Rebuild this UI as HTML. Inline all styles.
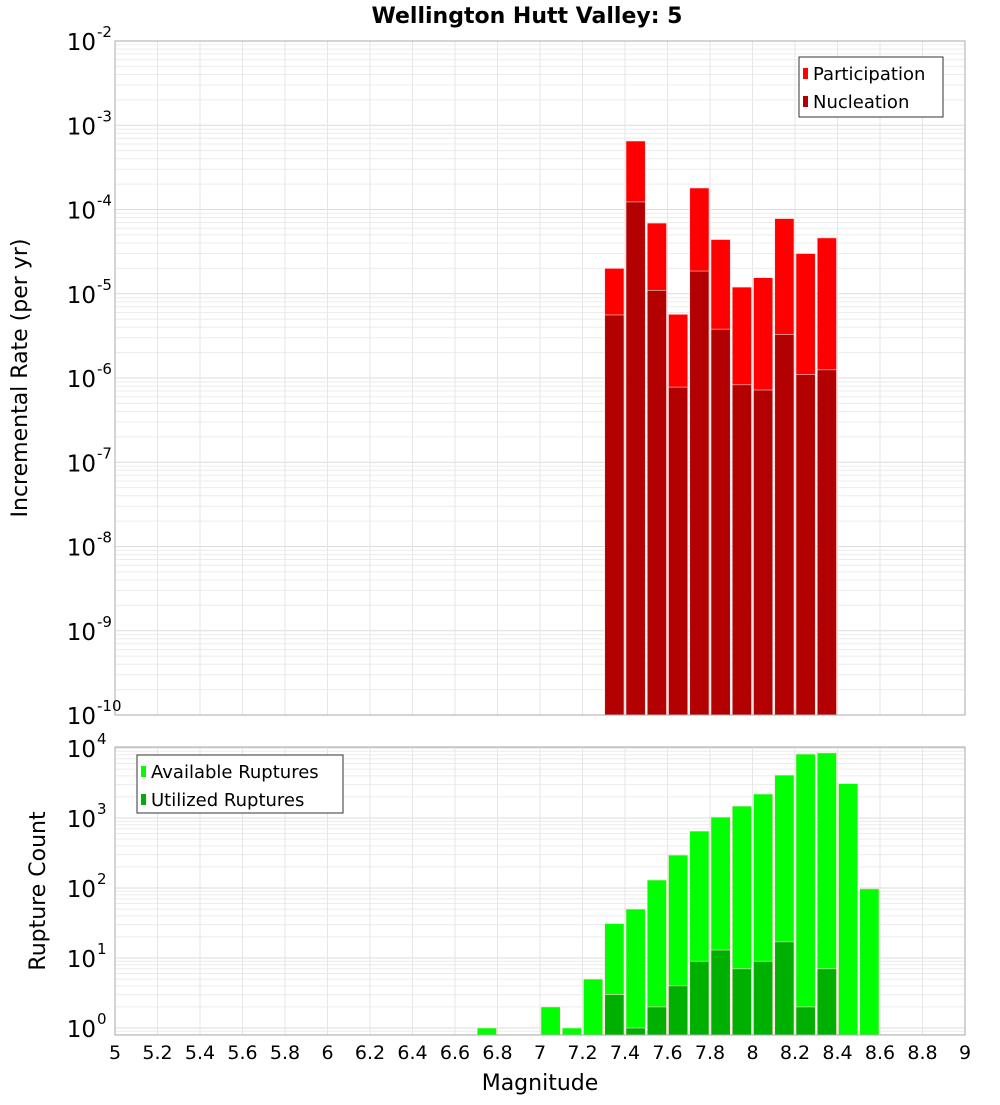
<!DOCTYPE html>
<html><head><meta charset="utf-8"><style>
body{margin:0;background:#fff;}
svg text{font-family:"DejaVu Sans","Liberation Sans",sans-serif;fill:#000;}
</style></head><body>
<svg id="c" width="1000" height="1100"></svg>
<script>
const mags=[7.3,7.4,7.5,7.6,7.7,7.8,7.9,8.0,8.1,8.2,8.3];
const participation=[2.0e-5,6.5e-4,6.9e-5,5.7e-6,1.8e-4,4.4e-5,1.2e-5,1.55e-5,7.8e-5,3.0e-5,4.6e-5];
const nucleation=[5.6e-6,1.23e-4,1.1e-5,7.8e-7,1.86e-5,3.8e-6,8.3e-7,7.2e-7,3.3e-6,1.1e-6,1.25e-6];
const availMags=[6.7,7.0,7.1,7.2,7.3,7.4,7.5,7.6,7.7,7.8,7.9,8.0,8.1,8.2,8.3,8.4,8.5];
const available=[1,2,1,5,31,50,130,295,650,1030,1480,2200,4100,8200,8500,3100,97];
const utilMags=[7.3,7.4,7.5,7.6,7.7,7.8,7.9,8.0,8.1,8.2,8.3];
const utilized=[3,1,2,4,9,13,7,9,17,2,7];
const xTicks=[5,5.2,5.4,5.6,5.8,6,6.2,6.4,6.6,6.8,7,7.2,7.4,7.6,7.8,8,8.2,8.4,8.6,8.8,9];
const topExp=[-2,-3,-4,-5,-6,-7,-8,-9,-10];
const botExp=[4,3,2,1,0];

const NS="http://www.w3.org/2000/svg";
const svg=document.getElementById('c');
function mk(tag,attrs,parent){const e=document.createElementNS(NS,tag);for(const k in attrs)e.setAttribute(k,attrs[k]);(parent||svg).appendChild(e);return e;}
const X0=115,X1=965;
const x=m=>X0+(m-5)/4*(X1-X0);
const T0=41,T1=715;
const yTop=v=>T0+(-2-Math.log10(v))/8*(T1-T0);
const B0=747,B1=1035;
const yBot=v=>1028-Math.log10(v)*70;

function grid(y0,y1,ymap,lo,hi){
  for(let d=lo;d<hi;d++){for(let k=1;k<10;k++){const v=k*Math.pow(10,d);const yy=ymap(v);if(yy<y0-0.1||yy>y1+0.1)continue;
    const l=mk('line',{x1:X0,x2:X1,y1:yy,y2:yy,stroke:k==1?'#dcdcdc':'#ececec','stroke-width':1});
    }}
  xTicks.forEach(t=>{const l=mk('line',{x1:x(t),x2:x(t),y1:y0,y2:y1,stroke:'#e6e6e6','stroke-width':1});
    });
}
grid(T0,T1,yTop,-10,-1);
grid(B0,B1,yBot,-1,5);

function bar(m,v,ymap,yb,fill,name){
  const x1=x(m)+1,x2=x(m+0.1)-1,yy=ymap(v);
  const r=mk('rect',{x:x1,y:yy,width:x2-x1,height:yb-yy,fill:fill,stroke:'#ffd8d8','stroke-width':0.6});
  
}
mags.forEach((m,i)=>bar(m,participation[i],yTop,T1,'#ff0000','participation-bar'));
mags.forEach((m,i)=>bar(m,nucleation[i],yTop,T1,'#b30000','nucleation-bar'));
availMags.forEach((m,i)=>bar(m,available[i],yBot,B1,'#00ff00','available-bar'));
utilMags.forEach((m,i)=>bar(m,utilized[i],yBot,B1,'#00b000','utilized-bar'));

mk('rect',{x:X0,y:T0,width:X1-X0,height:T1-T0,fill:'none',stroke:'#aaa'});
mk('rect',{x:X0,y:B0,width:X1-X0,height:B1-B0,fill:'none',stroke:'#aaa'});

function sup(xr,yy,e,name){
  const t=mk('text',{x:xr,y:yy,'font-size':23,'text-anchor':'end'});t.textContent='10';
  
  const s=mk('text',{x:xr+1,y:yy-13,'font-size':15});s.textContent=e;
  
}
topExp.forEach(e=>sup(96,yTop(Math.pow(10,e))+9,e,'y-tick-label'));
botExp.forEach(e=>sup(96,yBot(Math.pow(10,e))+9,e,'y-tick-label'));
xTicks.forEach(t=>{const l=mk('text',{x:x(t),y:1059,'font-size':19,'text-anchor':'middle'});l.textContent=String(t);
  });

let t=mk('text',{x:527,y:23,'font-size':22,'font-weight':'bold','text-anchor':'middle'});t.textContent='Wellington Hutt Valley: 5';

t=mk('text',{x:540,y:1090,'font-size':22,'text-anchor':'middle'});t.textContent='Magnitude';

t=mk('text',{x:0,y:0,'font-size':22,'text-anchor':'middle',transform:'translate(27,378) rotate(-90)'});t.textContent='Incremental Rate (per yr)';

t=mk('text',{x:0,y:0,'font-size':22,'text-anchor':'middle',transform:'translate(45,891) rotate(-90)'});t.textContent='Rupture Count';


function legend(lx,ly,w,h,items,name){
  const g=mk('g',{});
  mk('rect',{x:lx,y:ly,width:w,height:h,fill:'#fff',stroke:'#333','stroke-width':1},g);
  items.forEach((it,i)=>{const yy=ly+16+i*28;
    const r=mk('rect',{x:lx+4,y:yy-5,width:5,height:11,fill:it[1]},g);
    
    const tx=mk('text',{x:lx+14,y:yy+7,'font-size':18},g);tx.textContent=it[0];
    });
}
legend(799,57,144,60,[['Participation','#ff0000'],['Nucleation','#b30000']],'legend-top');
legend(137,755,206,58,[['Available Ruptures','#00ff00'],['Utilized Ruptures','#00b000']],'legend-bottom');
</script>
</body></html>
